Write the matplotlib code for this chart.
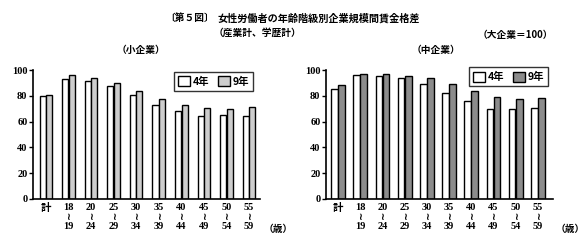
"""Female workers: wage gap by firm size and age group (large firms = 100)."""

import matplotlib

matplotlib.use("Agg")
import matplotlib.pyplot as plt
import numpy as np

plt.rcParams["font.family"] = ["Liberation Serif", "Noto Sans CJK JP", "DejaVu Sans"]
plt.rcParams["font.weight"] = "bold"

CJK = ["Noto Sans CJK JP", "DejaVu Sans"]

age_groups = ["計", "18\n≀\n19", "20\n≀\n24", "25\n≀\n29", "30\n≀\n34",
              "35\n≀\n39", "40\n≀\n44", "45\n≀\n49", "50\n≀\n54", "55\n≀\n59"]
series_names = ["4年", "9年"]

small_h4 = [80, 92.7, 91.6, 87.7, 81, 73.2, 68, 64.3, 65.4, 64.3]
small_h9 = [81, 96, 94, 89.6, 83.8, 77.9, 73.2, 70.8, 70, 71.3]
medium_h4 = [85, 96.4, 95.5, 93.7, 88.8, 82, 75.8, 69.8, 69.8, 70.3]
medium_h9 = [88.5, 97, 97, 95.5, 94, 89.3, 83.5, 79.4, 77.6, 78.4]

y_ticks = [0, 20, 40, 60, 80, 100]


def draw_panel(fig, rect, v4, v9, color9, width, xlim, legend_anchor, unit_x):
    ax = fig.add_axes(rect)
    x = np.arange(len(age_groups))
    ax.bar(x - width / 2 - 0.01, v4, width, color="white", edgecolor="black",
           linewidth=1.0, label=series_names[0])
    ax.bar(x + width / 2 + 0.01, v9, width, color=color9, edgecolor="black",
           linewidth=1.0, label=series_names[1])
    ax.set_xlim(*xlim)
    ax.set_ylim(0, 100)
    ax.set_yticks(y_ticks)
    ax.set_xticks(x)
    ax.set_xticklabels(age_groups, fontsize=7.5, linespacing=1.05)
    for lab in ax.get_xticklabels():
        lab.set_family(["Liberation Serif"] + CJK)
    ax.tick_params(axis="x", length=0, pad=3)
    ax.tick_params(axis="y", length=3, width=1, labelsize=7.5, pad=1)
    for side in ("top", "right"):
        ax.spines[side].set_visible(False)
    for side in ("left", "bottom"):
        ax.spines[side].set_linewidth(1.2)
    leg = ax.legend(loc="upper right", bbox_to_anchor=legend_anchor, ncol=2,
                    prop={"family": CJK, "size": 7.5, "weight": "bold"},
                    frameon=True, fancybox=False, edgecolor="black",
                    handlelength=1.1, handleheight=1.1, handletextpad=0.25,
                    columnspacing=0.9, borderpad=0.4, borderaxespad=0)
    leg.get_frame().set_linewidth(1.0)
    fig.text(unit_x, 1 - 229 / 245, "（歳）", fontsize=7, family=CJK,
             weight="bold", ha="left", va="center")
    return ax


fig = plt.figure(figsize=(5.84, 2.45), dpi=100)

draw_panel(fig, [33 / 584, 1 - 199 / 245, 227 / 584, 129 / 245],
           small_h4, small_h9, "#cdcdcd", 0.27, (-0.575, 9.49), (0.969, 0.984), 264 / 584)
draw_panel(fig, [326 / 584, 1 - 199 / 245, 227 / 584, 129 / 245],
           medium_h4, medium_h9, "#8c8c8c", 0.3, (-0.54, 9.68), (0.978, 1.02), 556 / 584)

fig.text(165 / 584, 1 - 18 / 245, "〔第５図〕", fontsize=7, family=CJK,
         weight="bold", ha="left", va="center")
fig.text(217 / 584, 1 - 18 / 245, "女性労働者の年齢階級別企業規模間賃金格差", fontsize=7.3,
         family=CJK, weight="bold", ha="left", va="center")
fig.text(214 / 584, 1 - 33 / 245, "（産業計、学歴計）", fontsize=7, family=CJK,
         weight="bold", ha="left", va="center")
fig.text(478 / 584, 1 - 35 / 245, "（大企業＝100）", fontsize=7, family=CJK,
         weight="bold", ha="left", va="center")
fig.text(117 / 584, 1 - 50 / 245, "（小企業）", fontsize=7, family=CJK,
         weight="bold", ha="left", va="center")
fig.text(412 / 584, 1 - 50 / 245, "（中企業）", fontsize=7, family=CJK,
         weight="bold", ha="left", va="center")

fig.savefig("out.png", dpi=100)
